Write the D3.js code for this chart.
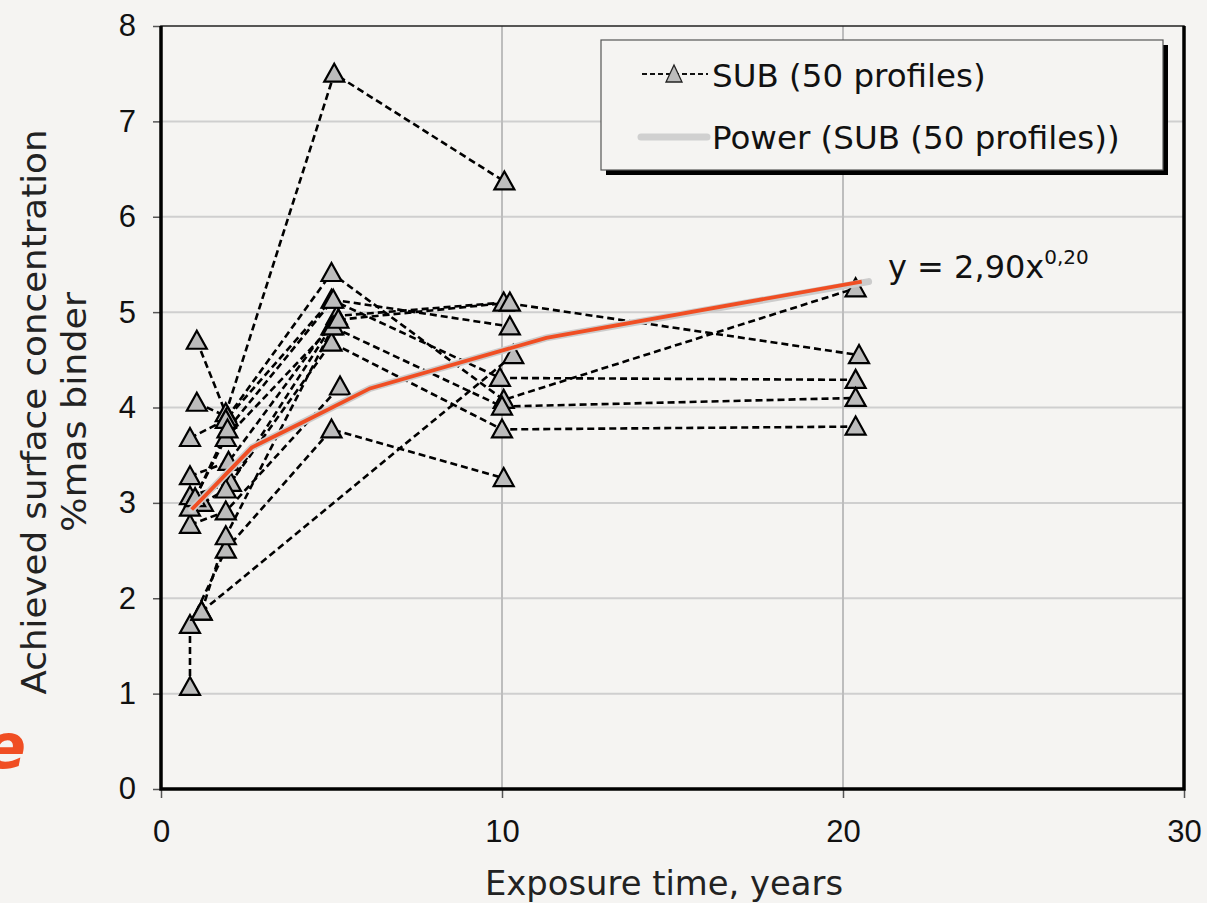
<!DOCTYPE html>
<html>
<head>
<meta charset="utf-8">
<script src="https://cdn.jsdelivr.net/npm/d3@7"></script>
<style>
  html, body { margin: 0; padding: 0; background: #f5f4f2; }
  svg { display: block; font-family: "DejaVu Sans", Verdana, sans-serif; }
</style>
</head>
<body>
<svg id="canvas" width="1207" height="903"></svg>
<script>
// profiles: [exposure time (years), surface concentration (%mas binder)]
var profile01 = [[1.05, 4.70], [1.90, 3.94], [5.08, 7.50], [10.07, 6.37]];
var profile02 = [[1.05, 4.05], [1.95, 3.90], [5.00, 5.41], [10.05, 4.08], [20.37, 5.25]];
var profile03 = [[0.85, 3.68], [1.90, 3.87], [5.00, 5.13], [9.94, 4.31], [20.37, 4.29]];
var profile04 = [[0.85, 3.28], [1.98, 3.43], [5.15, 4.96], [10.05, 5.10], [20.47, 4.55]];
var profile05 = [[0.85, 3.07], [2.05, 3.21], [5.00, 4.85], [10.00, 4.01], [20.37, 4.10]];
var profile06 = [[1.23, 3.00], [1.90, 3.14], [5.00, 4.68], [10.00, 3.77], [20.37, 3.80]];
var profile07 = [[0.85, 2.77], [1.90, 2.91], [5.25, 4.22]];
var profile08 = [[0.85, 1.07], [0.85, 1.72], [1.90, 2.51], [5.00, 3.77], [10.05, 3.26]];
var profile09 = [[1.19, 1.86], [1.90, 2.65], [5.05, 4.85]];
var profile10 = [[1.19, 1.86], [10.33, 4.55]];
var profile11 = [[0.85, 2.95], [1.90, 3.68], [5.20, 4.92], [10.23, 5.10]];
var profile12 = [[1.00, 3.05], [1.95, 3.77], [5.05, 5.13], [10.23, 4.85]];

var profiles = [profile01, profile02, profile03, profile04, profile05, profile06,
                profile07, profile08, profile09, profile10, profile11, profile12];

// power trend (y = 2,90x^0,20)
var trendX = [0.90, 2.66, 4.13, 6.13, 11.3, 20.55];
var trendY = [2.93, 3.58, 3.84, 4.20, 4.73, 5.32];
var trendGreyX = [0.90, 2.66, 4.13, 6.13, 11.3, 20.75];
var trendGreyY = [2.93, 3.58, 3.84, 4.20, 4.73, 5.32];

var xTicks = [0, 10, 20, 30];
var yTicks = [0, 1, 2, 3, 4, 5, 6, 7, 8];

var plotLeft = 161, plotRight = 1184, plotTop = 26, plotBottom = 789;

var svg = d3.select("#canvas");

var xScale = d3.scaleLinear().domain([0, 30]).range([plotLeft, plotRight]);
var yScale = d3.scaleLinear().domain([0, 8]).range([plotBottom, plotTop]);

// stray letter from neighbouring slide
svg.append("text")
  .attr("x", -16).attr("y", 768)
  .attr("fill", "#f04e23")
  .attr("font-size", 62)
  .attr("font-weight", "bold")
  .attr("font-style", "italic")
  .text("e");

// grid
svg.append("g").selectAll("line").data(yTicks.filter(d => d > 0 && d < 8)).enter()
  .append("line")
  .attr("x1", plotLeft).attr("x2", plotRight)
  .attr("y1", d => yScale(d)).attr("y2", d => yScale(d))
  .attr("stroke", "#cfcfcf").attr("stroke-width", 2);

svg.append("g").selectAll("line").data([10, 20]).enter()
  .append("line")
  .attr("x1", d => xScale(d)).attr("x2", d => xScale(d))
  .attr("y1", plotTop).attr("y2", plotBottom)
  .attr("stroke", "#bdbdbd").attr("stroke-width", 2);

// axes
var xAxis = d3.axisBottom(xScale).tickValues(xTicks).tickSize(9).tickSizeOuter(0);
var yAxis = d3.axisLeft(yScale).tickValues(yTicks).tickSize(8).tickSizeOuter(0);

svg.append("g")
  .attr("class", "x axis")
  .attr("transform", "translate(0," + plotBottom + ")")
  .call(xAxis)
  .call(g => g.select(".domain").remove())
  .call(g => g.selectAll("line").attr("stroke", "#555").attr("stroke-width", 1.5))
  .call(g => g.selectAll("text").attr("font-size", 31).attr("fill", "#111").attr("y", 31));

svg.append("g")
  .attr("class", "y axis")
  .attr("transform", "translate(" + plotLeft + ",0)")
  .call(yAxis)
  .call(g => g.select(".domain").remove())
  .call(g => g.selectAll("line").attr("stroke", "#555").attr("stroke-width", 1.5))
  .call(g => g.selectAll("text").attr("font-size", 31).attr("fill", "#111").attr("x", -25));

// frame
svg.append("rect")
  .attr("x", plotLeft).attr("y", plotTop)
  .attr("width", plotRight - plotLeft).attr("height", plotBottom - plotTop)
  .attr("fill", "none").attr("stroke", "#222").attr("stroke-width", 1.5);
svg.append("path")
  .attr("d", "M" + plotLeft + "," + plotTop + "V" + plotBottom + "H" + plotRight + "V" + plotTop)
  .attr("fill", "none").attr("stroke", "#000").attr("stroke-width", 3.5);

// dashed profile lines
var line = d3.line().x(d => xScale(d[0])).y(d => yScale(d[1]));

svg.append("g").selectAll("path").data(profiles).enter()
  .append("path")
  .attr("d", line)
  .attr("fill", "none")
  .attr("stroke", "#000")
  .attr("stroke-width", 2.6)
  .attr("stroke-dasharray", "7,4");

// markers
var tri = "M0,-11L10,7L-10,7Z";
var allPoints = [].concat.apply([], profiles);
svg.append("g").selectAll("path").data(allPoints).enter()
  .append("path")
  .attr("d", tri)
  .attr("transform", d => "translate(" + xScale(d[0]) + "," + (yScale(d[1]) + 1) + ")")
  .attr("fill", "#bcbcbc")
  .attr("stroke", "#000")
  .attr("stroke-width", 2.2);

// trend lines
var trendGrey = trendGreyX.map((x, i) => [x, trendGreyY[i]]);
var trendRed = trendX.map((x, i) => [x, trendY[i]]);

svg.append("path")
  .attr("d", line(trendGrey))
  .attr("fill", "none").attr("stroke", "#cccccc")
  .attr("stroke-width", 7).attr("stroke-linecap", "round");

svg.append("path")
  .attr("d", line(trendRed))
  .attr("fill", "none").attr("stroke", "#f04e23")
  .attr("stroke-width", 3.8);

// equation
var eq = svg.append("text")
  .attr("x", 888).attr("y", 278)
  .attr("font-size", 32).attr("fill", "#111");
eq.append("tspan").text("y = 2,90x");
eq.append("tspan").attr("dy", -14).attr("font-size", 20).text("0,20");

// legend
var lg = svg.append("g");
lg.append("rect").attr("x", 606).attr("y", 45).attr("width", 562).attr("height", 130).attr("fill", "#000");
lg.append("rect").attr("x", 601).attr("y", 40).attr("width", 562).attr("height", 130)
  .attr("fill", "#f5f4f2").attr("stroke", "#555").attr("stroke-width", 1.2);

lg.append("line").attr("x1", 642).attr("x2", 708).attr("y1", 74).attr("y2", 74)
  .attr("stroke", "#111").attr("stroke-width", 2).attr("stroke-dasharray", "5,3");
lg.append("path").attr("d", "M0,-10L8,7L-8,7Z")
  .attr("transform", "translate(674,75)")
  .attr("fill", "#bcbcbc").attr("stroke", "#222").attr("stroke-width", 1.3);
lg.append("text").attr("x", 712).attr("y", 87).attr("font-size", 32.5).attr("fill", "#111")
  .text("SUB (50 profiles)");

lg.append("line").attr("x1", 641).attr("x2", 707).attr("y1", 137).attr("y2", 137)
  .attr("stroke", "#d0d0d0").attr("stroke-width", 7).attr("stroke-linecap", "round");
lg.append("text").attr("x", 712).attr("y", 149).attr("font-size", 32.5).attr("fill", "#111")
  .text("Power (SUB (50 profiles))");

// axis titles
svg.append("text")
  .attr("x", 664).attr("y", 895)
  .attr("text-anchor", "middle")
  .attr("font-size", 33).attr("fill", "#222")
  .attr("textLength", 358).attr("lengthAdjust", "spacingAndGlyphs")
  .text("Exposure time, years");

var yl = svg.append("text")
  .attr("transform", "translate(0,412) rotate(-90)")
  .attr("text-anchor", "middle")
  .attr("font-size", 33).attr("fill", "#222");
yl.append("tspan").attr("x", 0).attr("y", 46)
  .attr("textLength", 565).attr("lengthAdjust", "spacingAndGlyphs")
  .text("Achieved surface concentration");
yl.append("tspan").attr("x", 0).attr("y", 86)
  .attr("textLength", 240).attr("lengthAdjust", "spacingAndGlyphs")
  .text("%mas binder");
</script>
</body>
</html>
